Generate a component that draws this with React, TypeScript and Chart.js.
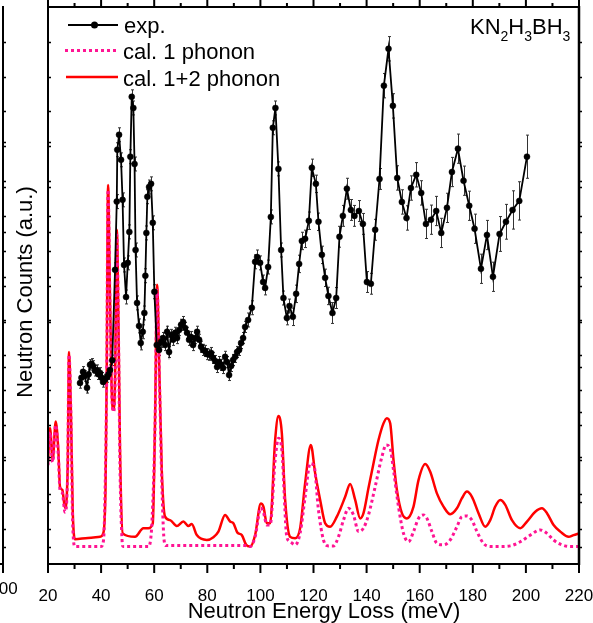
import React, { useEffect, useRef } from "react";
import { Chart, registerables } from "chart.js";

Chart.register(...registerables);

const FONT = "'Liberation Sans', Arial, Helvetica, sans-serif";

// Experimental spectrum (meV, a.u., error)
const expEnergy = [32.06, 32.6, 33.19, 33.9, 34.7, 35.3, 35.83, 36.4, 36.96, 37.7, 38.47, 39.0, 39.6, 40.2, 40.73, 41.5, 42.23, 42.8, 43.37, 44.2,
  45.25, 45.9, 46.1, 46.76, 47.51, 48.08, 48.64, 49.4, 50.04, 50.64, 51.02, 51.54, 52.15, 52.6, 52.98, 53.54, 54.29, 54.93, 55.69, 56.29, 56.67, 57.05, 57.42, 58.06, 58.82, 59.46, 60.06, 60.96,
  61.83, 62.59, 63.34, 64.09, 64.85, 65.6, 66.35, 67.11, 67.86, 68.61, 69.37, 70.12, 70.88, 71.63, 72.38, 73.14, 73.89, 74.64, 75.4, 76.15, 76.91, 77.66, 78.41, 79.17, 79.92, 80.67, 81.43, 82.18, 82.94, 83.69, 84.44, 85.2, 85.95, 86.7, 87.46, 88.21, 88.97, 89.72, 90.47, 91.23, 91.98, 92.73, 93.49, 94.24,
  95.37, 96.77, 98.01, 98.76, 99.89, 101.02, 101.78, 102.91, 103.93, 104.68, 105.66, 106.79, 107.81, 108.68, 109.96, 110.94, 112.22, 113.46, 114.59, 115.61, 116.85, 118.25, 119.38, 120.89, 121.87, 123.15, 124.39, 125.63, 127.14, 128.54, 129.78, 131.06, 132.57, 134.08, 135.43, 137.09, 138.6, 140.11, 141.61, 143.23, 144.86, 146.51, 148.25, 149.9, 151.53, 153.29, 155.03, 156.69, 158.69, 160.57, 162.34, 164.23, 166.22, 168.11, 170.26, 172.14, 174.4, 176.51, 178.66, 180.66, 183.07, 185.33, 187.59, 190.08, 192.49, 194.98, 197.5, 200.4];
const expCounts = [5.2, 5.35, 5.52, 5.4, 5.06, 5.45, 5.72, 5.75, 5.69, 5.55, 5.57, 5.45, 5.49, 5.35, 5.23, 5.3, 5.37, 5.45, 5.57, 5.85,
  8.45, 10.41, 11.9, 12.33, 11.61, 10.46, 8.59, 7.67, 8.65, 9.54, 11.7, 13.42, 13.1, 11.49, 9.02, 7.5, 6.84, 6.35, 6.67, 7.21, 8.28, 9.51, 10.55, 10.83, 10.92, 9.8, 7.82, 6.29,
  6.15, 6.38, 6.49, 6.29, 6.67, 6.09, 6.58, 6.44, 6.64, 6.49, 6.72, 6.87, 6.95, 6.78, 6.64, 6.44, 6.52, 6.29, 6.49, 6.67, 6.44, 6.24, 6.15, 6.12, 6.03, 6.01, 6.06, 5.92, 5.83, 5.66, 5.8, 5.72, 5.63, 5.95, 5.8, 5.43, 5.69, 5.86, 5.95, 6.09, 6.15, 6.35, 6.49, 6.81,
  7.01, 7.36, 8.68, 8.82, 8.65, 8.1, 7.93, 8.53, 9.97, 12.53, 13.1, 11.35, 9.02, 7.64, 7.07, 7.41, 7.1, 7.76, 8.62, 9.28, 9.34, 9.86, 11.38, 10.92, 9.83, 8.88, 8.22, 7.7, 7.21, 7.64, 9.4, 10.0, 10.78, 10.17, 10.0, 10.14, 9.77, 8.1, 8.05, 9.6, 11.06, 13.74, 14.8, 13.16, 11.09, 10.4, 9.94, 10.8, 11.18, 10.66, 9.77, 9.89, 10.14, 9.51, 10.23, 11.26, 11.93, 11.01, 10.29, 9.63, 8.48, 9.45, 8.25, 9.48, 9.83, 10.17, 10.43, 11.7];
const expError = [0.15, 0.15, 0.15, 0.15, 0.15, 0.15, 0.15, 0.15, 0.15, 0.15, 0.15, 0.15, 0.15, 0.15, 0.15, 0.15, 0.15, 0.15, 0.15, 0.15,
  0.2, 0.2, 0.2, 0.2, 0.2, 0.2, 0.2, 0.2, 0.2, 0.2, 0.2, 0.2, 0.2, 0.2, 0.2, 0.2, 0.2, 0.2, 0.2, 0.2, 0.2, 0.2, 0.2, 0.2, 0.2, 0.2, 0.2, 0.2,
  0.16, 0.16, 0.16, 0.16, 0.16, 0.16, 0.16, 0.16, 0.16, 0.16, 0.16, 0.16, 0.16, 0.16, 0.16, 0.16, 0.16, 0.16, 0.16, 0.16, 0.16, 0.16, 0.16, 0.16, 0.16, 0.16, 0.16, 0.16, 0.16, 0.16, 0.16, 0.16, 0.16, 0.16, 0.16, 0.16, 0.16, 0.16, 0.16, 0.16, 0.16, 0.16, 0.16, 0.16,
  0.2, 0.2, 0.2, 0.2, 0.2, 0.2, 0.2, 0.2, 0.2, 0.2, 0.2, 0.2, 0.2, 0.2, 0.2, 0.2,
  0.25, 0.25, 0.25, 0.25, 0.25, 0.25, 0.25, 0.25, 0.25, 0.25, 0.25, 0.25,
  0.3, 0.3, 0.3, 0.3, 0.3, 0.3, 0.3, 0.3, 0.3, 0.3, 0.3, 0.3, 0.3,
  0.35, 0.35, 0.35, 0.35, 0.35, 0.35, 0.35, 0.35, 0.35,
  0.42, 0.42, 0.42, 0.42, 0.42, 0.42, 0.42, 0.42, 0.42, 0.42, 0.42, 0.42, 0.42,
  0.5, 0.5, 0.55, 0.55, 0.62];

// Calculated 1+2 phonon spectrum
const cal12Energy = [20.0, 20.75, 21.77, 22.9, 23.88, 24.52, 25.39, 26.41, 27.42, 27.91, 28.67, 29.31, 30.18, 35.07, 39.6, 40.84, 41.67, 42.12, 42.61, 43.37, 44.12, 44.68, 45.25, 45.93, 46.57, 47.13, 48.15, 52.79, 55.92, 57.8, 59.46, 60.32, 61.08, 62.02, 62.85, 64.09, 65.98, 68.5, 70.99, 72.87, 74.15, 76.04, 79.81, 82.3, 84.18, 86.7, 88.59, 89.83, 91.34, 93.0, 94.62, 96.13, 98.01, 100.16, 101.14, 102.42, 103.66, 105.55, 106.79, 108.07, 109.32, 111.2, 113.08, 114.97, 116.85, 119.0, 120.62, 122.51, 124.39, 126.27, 128.8, 131.93, 133.81, 135.7, 137.58, 138.83, 140.71, 142.59, 144.48, 146.36, 147.64, 148.89, 150.13, 151.41, 153.3, 155.18, 157.67, 159.55, 162.08, 163.96, 166.48, 168.97, 171.5, 174.02, 175.91, 177.79, 179.68, 182.16, 184.69, 186.57, 188.46, 190.34, 192.23, 194.75, 197.88, 200.4, 203.53, 206.05, 207.94, 210.43, 212.95, 216.08, 217.96, 220.0];
const cal12Counts = [2.93, 3.91, 2.99, 4.09, 3.28, 2.22, 2.13, 1.61, 2.8, 6.09, 4.22, 1.55, 0.71, 0.75, 0.78, 0.89, 2.2, 5.5, 10.89, 7.59, 4.71, 4.43, 5.29, 9.6, 6.72, 3.28, 0.88, 0.78, 1.03, 1.03, 1.17, 4.14, 8.02, 5.29, 2.7, 1.36, 1.26, 1.09, 1.22, 1.09, 1.15, 0.83, 0.69, 0.77, 0.93, 1.41, 1.22, 1.17, 0.9, 0.83, 0.55, 0.5, 0.83, 1.74, 1.65, 1.17, 1.17, 3.56, 4.25, 3.76, 1.84, 0.78, 0.74, 1.03, 2.32, 3.42, 2.61, 1.84, 1.17, 1.07, 1.36, 1.93, 2.3, 1.84, 1.31, 1.46, 2.18, 2.89, 3.56, 4.04, 4.19, 4.04, 2.99, 2.13, 1.46, 1.31, 1.65, 2.41, 2.87, 2.65, 2.03, 1.65, 1.43, 1.6, 1.89, 2.08, 1.93, 1.46, 1.07, 1.26, 1.65, 1.84, 1.7, 1.26, 1.03, 1.22, 1.5, 1.6, 1.46, 1.12, 0.93, 0.78, 0.83, 0.88];

// Calculated 1 phonon spectrum
const cal1Energy = [20.0, 20.75, 21.77, 22.9, 23.88, 24.52, 25.39, 26.41, 27.42, 27.91, 28.67, 29.31, 30.18, 39.97, 40.92, 41.48, 42.12, 42.61, 43.37, 44.12, 44.68, 45.25, 45.93, 46.57, 47.13, 47.89, 48.26, 57.69, 58.63, 59.19, 60.32, 61.08, 62.02, 62.85, 63.72, 64.47, 94.24, 96.13, 98.01, 100.16, 101.14, 102.42, 103.66, 105.55, 106.79, 108.07, 109.96, 111.2, 113.08, 114.97, 116.85, 118.74, 120.25, 121.87, 123.75, 125.63, 127.52, 129.4, 131.29, 133.17, 135.06, 136.94, 138.83, 140.71, 143.23, 145.76, 147.38, 148.89, 150.13, 152.01, 153.9, 155.78, 157.67, 159.55, 161.44, 162.72, 164.6, 166.48, 168.97, 171.5, 174.02, 175.91, 177.79, 179.68, 181.56, 184.05, 186.57, 190.34, 194.11, 197.88, 201.65, 205.42, 207.94, 210.43, 212.95, 216.72, 220.0];
const cal1Counts = [2.84, 3.79, 2.93, 3.99, 3.13, 2.13, 2.04, 1.49, 2.7, 6.01, 4.14, 1.12, 0.5, 0.5, 0.69, 2.0, 5.4, 10.75, 7.3, 4.71, 4.37, 5.14, 9.45, 6.44, 2.7, 0.69, 0.5, 0.5, 0.69, 1.26, 3.99, 7.87, 5.14, 2.41, 0.69, 0.53, 0.53, 0.5, 0.78, 1.61, 1.49, 1.12, 1.12, 2.99, 3.61, 3.28, 0.78, 0.64, 0.55, 0.89, 1.93, 2.89, 2.8, 1.55, 0.69, 0.52, 0.52, 0.78, 1.26, 1.6, 1.41, 0.93, 1.03, 1.41, 2.22, 3.08, 3.42, 3.32, 2.7, 1.65, 0.88, 0.64, 0.93, 1.31, 1.41, 1.31, 0.93, 0.59, 0.55, 0.69, 1.07, 1.36, 1.38, 1.26, 0.93, 0.59, 0.5, 0.5, 0.52, 0.64, 0.83, 0.98, 0.88, 0.69, 0.57, 0.5, 0.5];

// Axis ticks
const xMajorTicks = [20, 40, 60, 80, 100, 120, 140, 160, 180, 200, 220];
const xMinorTicks = [30, 50, 70, 90, 110, 130, 150, 170, 190, 210];
const yTicksA = [1, 2, 3, 4, 5, 6, 7, 8, 9, 10, 11, 12, 13, 14, 15];
const yTicksB = [0.49, 1.78, 3.07, 4.37, 5.66, 6.95, 8.25, 9.54, 10.83, 12.12];

const legendLabels = ["exp.", "cal. 1 phonon", "cal. 1+2 phonon"];
const xTitle = "Neutron Energy Loss (meV)";
const yTitle = "Neutron Counts (a.u.)";

const RED = "#ff0000";
const PINK = "#ff1493";

function toPoints(xs: number[], ys: number[]) {
  const n = Math.min(xs.length, ys.length);
  const out: { x: number; y: number }[] = [];
  for (let i = 0; i < n; i++) out.push({ x: xs[i], y: ys[i] });
  return out;
}

function zeroPad(s: any) {
  s.paddingLeft = 0;
  s.paddingRight = 0;
  s.paddingTop = 0;
  s.paddingBottom = 0;
}

const decorPlugin = {
  id: "decor",
  beforeDatasetsDraw(chart: any) {
    const { ctx, chartArea: ca, scales } = chart;
    const xs = scales.x, ys = scales.y;
    ctx.save();
    ctx.beginPath();
    ctx.rect(ca.left, ca.top, ca.right - ca.left, ca.bottom - ca.top);
    ctx.clip();
    ctx.strokeStyle = "#333";
    ctx.lineWidth = 1;
    const n = Math.min(expEnergy.length, expCounts.length, expError.length);
    for (let i = 0; i < n; i++) {
      const px = Math.round(xs.getPixelForValue(expEnergy[i])) + 0.5;
      const y1 = ys.getPixelForValue(expCounts[i] - expError[i]);
      const y2 = ys.getPixelForValue(expCounts[i] + expError[i]);
      ctx.beginPath();
      ctx.moveTo(px, y1);
      ctx.lineTo(px, y2);
      ctx.moveTo(px - 1.5, y1);
      ctx.lineTo(px + 1.5, y1);
      ctx.moveTo(px - 1.5, y2);
      ctx.lineTo(px + 1.5, y2);
      ctx.stroke();
    }
    ctx.restore();
  },
  afterDraw(chart: any) {
    const { ctx, chartArea: ca, scales } = chart;
    const xs = scales.x, ys = scales.y;
    ctx.save();
    ctx.strokeStyle = "#000";
    ctx.fillStyle = "#000";
    ctx.lineCap = "butt";

    // frame
    ctx.lineWidth = 2;
    ctx.beginPath();
    ctx.moveTo(ca.left, ca.top);
    ctx.lineTo(ca.right, ca.top);
    ctx.moveTo(ca.left, ca.top - 1);
    ctx.lineTo(ca.left, ca.bottom + 1);
    ctx.moveTo(ca.left - 1, ca.bottom);
    ctx.lineTo(ca.right + 1, ca.bottom);
    ctx.stroke();
    ctx.lineWidth = 2.5;
    ctx.beginPath();
    ctx.moveTo(ca.right, ca.top - 1);
    ctx.lineTo(ca.right, ca.bottom + 1);
    ctx.stroke();

    // x ticks (bottom outward, top outward)
    ctx.lineWidth = 2;
    ctx.beginPath();
    xMajorTicks.forEach((v) => {
      const p = xs.getPixelForValue(v);
      ctx.moveTo(p, ca.bottom);
      ctx.lineTo(p, ca.bottom + 9);
      ctx.moveTo(p, ca.top);
      ctx.lineTo(p, ca.top - 7);
    });
    xMinorTicks.forEach((v) => {
      const p = xs.getPixelForValue(v);
      ctx.moveTo(p, ca.bottom);
      ctx.lineTo(p, ca.bottom + 5);
      ctx.moveTo(p, ca.top);
      ctx.lineTo(p, ca.top - 4);
    });
    ctx.stroke();

    // y ticks
    ctx.lineWidth = 1.5;
    ctx.beginPath();
    [...yTicksA, ...yTicksB].forEach((v) => {
      const p = Math.round(ys.getPixelForValue(v)) + 0.5;
      ctx.moveTo(ca.left, p);
      ctx.lineTo(ca.left + 3, p);
      ctx.moveTo(ca.right, p);
      ctx.lineTo(ca.right + 3, p);
      ctx.moveTo(3, p);
      ctx.lineTo(6, p);
    });
    ctx.stroke();

    // neighbouring panel fragment at the left edge
    ctx.lineWidth = 2;
    ctx.beginPath();
    ctx.moveTo(3, ca.top - 1);
    ctx.lineTo(3, ca.bottom + 1);
    ctx.moveTo(0, ca.bottom);
    ctx.lineTo(4, ca.bottom);
    ctx.moveTo(3, ca.bottom);
    ctx.lineTo(3, ca.bottom + 9);
    ctx.stroke();
    ctx.font = `17px ${FONT}`;
    ctx.textAlign = "center";
    ctx.textBaseline = "alphabetic";
    ctx.fillText("200", 3.5, 594);

    // axis titles
    ctx.font = `22px ${FONT}`;
    ctx.textAlign = "center";
    ctx.fillText(xTitle, 324, 618);
    ctx.save();
    ctx.translate(32, 292);
    ctx.rotate(-Math.PI / 2);
    ctx.fillText(yTitle, 0, 0);
    ctx.restore();

    // legend
    ctx.textAlign = "left";
    ctx.lineWidth = 1.8;
    ctx.beginPath();
    ctx.moveTo(68, 25);
    ctx.lineTo(118, 25);
    ctx.stroke();
    ctx.beginPath();
    ctx.arc(94.5, 25, 3.5, 0, Math.PI * 2);
    ctx.fill();
    ctx.strokeStyle = PINK;
    ctx.lineWidth = 3;
    ctx.setLineDash([3, 3]);
    ctx.beginPath();
    ctx.moveTo(65, 50.5);
    ctx.lineTo(117, 50.5);
    ctx.stroke();
    ctx.setLineDash([]);
    ctx.strokeStyle = RED;
    ctx.lineWidth = 2.5;
    ctx.beginPath();
    ctx.moveTo(66, 77);
    ctx.lineTo(118, 77);
    ctx.stroke();
    ctx.fillStyle = "#000";
    ctx.font = `22px ${FONT}`;
    ctx.fillText(legendLabels[0], 124, 33);
    ctx.fillText(legendLabels[1], 123, 58.5);
    ctx.fillText(legendLabels[2], 123, 85.5);

    // compound label KN2H3BH3
    const parts: [string, boolean][] = [["KN", false], ["2", true], ["H", false], ["3", true], ["BH", false], ["3", true]];
    let cx = 470;
    parts.forEach(([t, sub]) => {
      ctx.font = sub ? `14px ${FONT}` : `22px ${FONT}`;
      ctx.fillText(t, cx, sub ? 41 : 34);
      cx += ctx.measureText(t).width;
    });

    ctx.restore();
  },
};

export default function App() {
  const ref = useRef<HTMLCanvasElement | null>(null);
  useEffect(() => {
    document.body.style.margin = "0";
    const canvas = ref.current;
    if (!canvas) return;
    const chart = new Chart(canvas, {
      type: "line",
      data: {
        datasets: [
          {
            label: legendLabels[0],
            data: toPoints(expEnergy, expCounts),
            borderColor: "#000",
            backgroundColor: "#000",
            borderWidth: 1.8,
            pointRadius: 3,
            pointBorderWidth: 0.5,
            pointBackgroundColor: "#000",
            pointBorderColor: "#000",
            tension: 0,
            order: 0,
          },
          {
            label: legendLabels[1],
            data: toPoints(cal1Energy, cal1Counts),
            borderColor: PINK,
            borderWidth: 3,
            borderDash: [3, 3],
            pointRadius: 0,
            cubicInterpolationMode: "monotone",
            order: 1,
          },
          {
            label: legendLabels[2],
            data: toPoints(cal12Energy, cal12Counts),
            borderColor: RED,
            borderWidth: 2.5,
            pointRadius: 0,
            cubicInterpolationMode: "monotone",
            order: 2,
          },
        ],
      },
      options: {
        animation: false,
        responsive: false,
        maintainAspectRatio: false,
        parsing: false,
        normalized: true,
        layout: { padding: { top: 7, right: 14, left: 0, bottom: 0 } },
        plugins: { legend: { display: false }, tooltip: { enabled: false } },
        scales: {
          x: {
            type: "linear",
            min: 20,
            max: 220,
            afterBuildTicks: (s: any) => {
              s.ticks = xMajorTicks.map((v) => ({ value: v }));
            },
            ticks: {
              autoSkip: false,
              maxRotation: 0,
              padding: 14,
              color: "#000",
              font: { family: FONT, size: 17 },
            },
            grid: { display: false },
            border: { display: false },
            afterFit: (s: any) => {
              s.height = 59;
              zeroPad(s);
            },
          },
          y: {
            type: "linear",
            min: 0,
            max: 16,
            ticks: { display: false },
            grid: { display: false },
            border: { display: false },
            afterFit: (s: any) => {
              s.width = 48;
              zeroPad(s);
            },
          },
        },
      } as any,
      plugins: [decorPlugin],
    });
    return () => chart.destroy();
  }, []);
  return <canvas ref={ref} width={593} height={623} style={{ display: "block", width: 593, height: 623 }} />;
}
